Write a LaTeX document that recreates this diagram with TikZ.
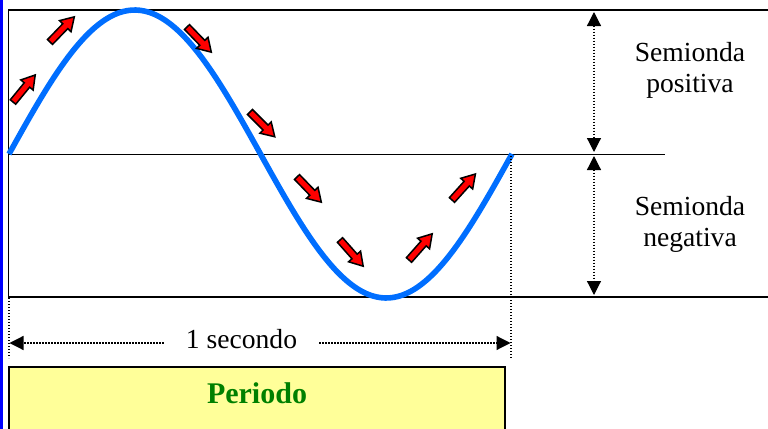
\documentclass[tikz,border=0pt]{standalone}
\usepackage{fontspec}
\setmainfont{Liberation Serif}
\usepackage{tikz}
\usetikzlibrary{arrows.meta}
\definecolor{waveblue}{RGB}{0,110,255}
\definecolor{perioddgreen}{RGB}{0,128,0}
\definecolor{periodyellow}{RGB}{255,255,153}

\begin{document}
\begin{tikzpicture}[x=0.5pt,y=-0.5pt,
    frameline/.style={line width=0.65pt},
    waveline/.style={waveblue,line width=2.8pt},
    dotline/.style={line width=0.6pt,dash pattern=on 0.6pt off 0.9pt},
    dimboth/.style={dotline,{Triangle[length=7pt,width=7pt]}-{Triangle[length=7pt,width=7pt]}},
    dimone/.style={dotline,-{Triangle[length=7pt,width=7pt]}},
    lbl/.style={font=\fontsize{13.8}{15.5}\selectfont,align=center},
    pics/redarrow/.style={code={
      \draw[fill=red,line width=0.75pt,line join=miter]
        (0,-3.5) -- (22,-3.5) -- (22,-8) -- (35,0) -- (22,8) -- (22,3.5) -- (0,3.5) -- cycle;}}]
  \useasboundingbox (0,0) rectangle (768,429);
  \clip (0,0) rectangle (768,429);

  % border on the left
  \draw[blue,line width=1.2pt] (1.5,0) -- (1.5,429);

  % frame and axis
  \draw[frameline] (772,10) -- (8.5,10) -- (8.5,297) -- (772,297);
  \draw[line width=0.5pt] (8.5,154) -- (665,154);

  % one period of the wave
  \draw[waveline] plot[domain=0:360,samples=120,smooth] ({9+1.39722*\x},{154-144*sin(\x)});

  % red arrows along the wave
  \pic[rotate=50.6] at (13,102) {redarrow};
  \pic[rotate=46] at (50,42) {redarrow};
  \pic[rotate=-46] at (187,27) {redarrow};
  \pic[rotate=-45] at (250,112) {redarrow};
  \pic[rotate=-46] at (297,177) {redarrow};
  \pic[rotate=-48.5] at (340,240) {redarrow};
  \pic[rotate=48.5] at (409,260) {redarrow};
  \pic[rotate=48] at (452,200) {redarrow};

  % half waves
  \coordinate (posTop) at (594,12);
  \coordinate (posBot) at (594,152);
  \coordinate (negTop) at (594,156);
  \coordinate (negBot) at (594,295);
  \draw[dimboth] (posTop) -- (posBot);
  \draw[dimboth] (negTop) -- (negBot);
  \node[lbl] (pos) at (690,70.7) {Semionda\\positiva};
  \node[lbl] (neg) at (690,224) {Semionda\\negativa};

  % one second
  \draw[dotline] (9,298) -- (9,358);
  \draw[dotline] (511,156) -- (511,358);
  \coordinate (secL) at (9.5,343);
  \coordinate (secR) at (510.5,343);
  \node[lbl,anchor=base,inner xsep=11pt] (sec) at (241.5,348) {1 secondo};
  \draw[dimone] (sec.west |- secL) -- (secL);
  \draw[dimone] (sec.east |- secR) -- (secR);

  % period box
  \draw[line width=0.6pt,fill=periodyellow] (9,367) rectangle (505,440);
  \node[font=\bfseries\fontsize{15}{18}\selectfont,text=perioddgreen,anchor=base] (periodo) at (257,403) {Periodo};
\end{tikzpicture}
\end{document}
